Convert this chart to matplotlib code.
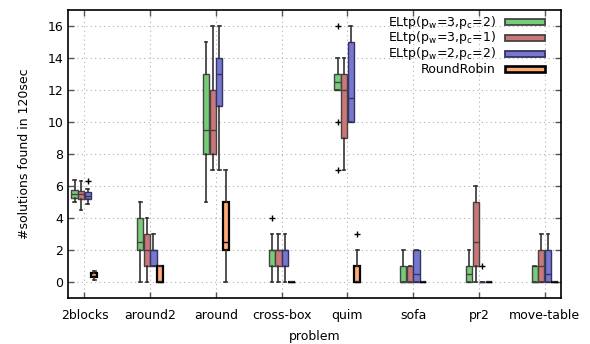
import matplotlib
matplotlib.use("Agg")
import matplotlib.pyplot as plt
from matplotlib.patches import Rectangle

problems = ['2blocks', 'around2', 'around', 'cross-box', 'quim', 'sofa', 'pr2', 'move-table']

series_labels = [r'ELtp(p$_\mathregular{w}$=3,p$_\mathregular{c}$=2)',
                 r'ELtp(p$_\mathregular{w}$=3,p$_\mathregular{c}$=1)',
                 r'ELtp(p$_\mathregular{w}$=2,p$_\mathregular{c}$=2)',
                 'RoundRobin']

# ELtp(pw=3,pc=2)
g_whislo = [5.0, 0, 5, 0, 12, 0, 0, 0]
g_q1     = [5.25, 2, 8, 1, 12, 0, 0, 0]
g_med    = [5.5, 2.5, 9.5, 2, 12.5, 0, 0.5, 0]
g_q3     = [5.75, 4, 13, 2, 13, 1, 1, 1]
g_whishi = [6.4, 5, 15, 3, 14, 2, 2, 1]
g_fliers = [[], [], [], [4], [16, 10, 7], [], [], []]

# ELtp(pw=3,pc=1)
r_whislo = [4.5, 0, 7, 0, 7, 0, 0, 0]
r_q1     = [5.2, 1, 8, 1, 9, 0, 1, 0]
r_med    = [5.5, 2, 9.5, 2, 12, 0, 2.5, 1]
r_q3     = [5.7, 3, 12, 2, 13, 1, 5, 2]
r_whishi = [6.3, 4, 16, 3, 14, 1, 6, 3]
r_fliers = [[], [], [], [], [], [], [], []]

# ELtp(pw=2,pc=2)
b_whislo = [4.9, 1, 7, 0, 10, 0, 0, 0]
b_q1     = [5.2, 1, 11, 1, 10, 0, 0, 0]
b_med    = [5.4, 2, 13, 2, 11.5, 0.5, 0, 0.5]
b_q3     = [5.6, 2, 14, 2, 15, 2, 0, 2]
b_whishi = [5.8, 3, 16, 3, 16, 2, 0, 3]
b_fliers = [[6.3], [], [], [], [], [], [1], []]

# RoundRobin
o_whislo = [0.1, 0, 0, 0, 0, 0, 0, 0]
o_q1     = [0.3, 0, 2, 0, 0, 0, 0, 0]
o_med    = [0.4, 0, 2.5, 0, 0, 0, 0, 0]
o_q3     = [0.55, 1, 5, 0, 1, 0, 0, 0]
o_whishi = [0.7, 1, 7, 0, 2, 0, 0, 0]
o_fliers = [[], [], [], [], [3], [], [], []]

series = [
    (g_whislo, g_q1, g_med, g_q3, g_whishi, g_fliers),
    (r_whislo, r_q1, r_med, r_q3, r_whishi, r_fliers),
    (b_whislo, b_q1, b_med, b_q3, b_whishi, b_fliers),
    (o_whislo, o_q1, o_med, o_q3, o_whishi, o_fliers),
]
colors = ['#77cc77', '#cc7777', '#7777cc', '#ffaa77']
edgecols = ['#444444', '#444444', '#333366', '#000000']
edgewidths = [1.0, 1.0, 1.0, 1.6]
offsets = [-0.15, -0.05, 0.05, 0.15]
width = 0.095

plt.rcParams['font.family'] = ['DejaVu Sans']
plt.rcParams['font.size'] = 9

fig = plt.figure(figsize=(5.9, 3.44), dpi=100)
ax = fig.add_axes([0.1153, 0.134, 0.951 - 0.1153, 0.971 - 0.134])

for si, (wl, q1, md, q3, wh, fl) in enumerate(series):
    stats = []
    for i in range(len(problems)):
        stats.append(dict(whislo=wl[i], q1=q1[i], med=md[i], q3=q3[i], whishi=wh[i], fliers=fl[i]))
    pos = [i + offsets[si] for i in range(len(problems))]
    ec = edgecols[si]
    ax.bxp(stats, positions=pos, widths=width, patch_artist=True, manage_ticks=False,
           boxprops=dict(facecolor=colors[si], edgecolor=ec, linewidth=edgewidths[si]),
           medianprops=dict(color=ec, linewidth=1.0),
           whiskerprops=dict(color='#333333', linewidth=1.2),
           capprops=dict(color='#333333', linewidth=1.2),
           capwidths=0.04,
           flierprops=dict(marker='+', markeredgecolor='black', markersize=5, markeredgewidth=1.0),
           zorder=3)

ax.set_xlim(-0.25, 7.25)
ax.set_ylim(-1, 17)
ax.set_xticks(range(len(problems)))
ax.set_xticklabels(problems)
ax.set_yticks(range(0, 17, 2))
ax.tick_params(direction='in', top=True, right=True, length=4, color='#555555', width=1)
ax.tick_params(axis='x', pad=8)
ax.grid(True, linestyle=(0, (1, 3)), color='#b0b0b0', linewidth=0.8)
ax.set_axisbelow(True)
for s in ax.spines.values():
    s.set_linewidth(1.2)

ax.set_xlabel('problem', labelpad=6)
ax.set_ylabel('#solutions found in 120sec', labelpad=12)

# manual legend (gnuplot style: right-aligned text, sample box on the right)
fw, fh = 590.0, 344.0
text_right = 496 / fw
box_l, box_r = 505 / fw, 545 / fw
row_y = [22.3, 38.0, 53.7, 69.4]
box_h = 6 / fh
for i in range(4):
    yc = 1 - row_y[i] / fh
    fig.text(text_right, yc, series_labels[i], ha='right', va='center', fontsize=9.0)
    fig.patches.append(Rectangle((box_l, yc - box_h / 2), box_r - box_l, box_h,
                                 transform=fig.transFigure, facecolor=colors[i],
                                 edgecolor=edgecols[i], linewidth=edgewidths[i] + 0.3))

fig.savefig('out.png', dpi=100)
